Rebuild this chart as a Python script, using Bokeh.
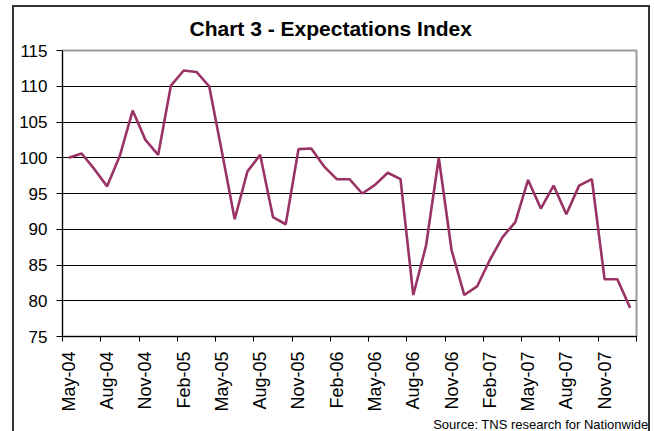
import math
from bokeh.plotting import figure
from bokeh.models import FixedTicker, Title, Range1d, InlineStyleSheet
from bokeh.embed import file_html
from bokeh.resources import INLINE

months = ["May-04", "Jun-04", "Jul-04", "Aug-04", "Sep-04", "Oct-04", "Nov-04", "Dec-04",
          "Jan-05", "Feb-05", "Mar-05", "Apr-05", "May-05", "Jun-05", "Jul-05", "Aug-05",
          "Sep-05", "Oct-05", "Nov-05", "Dec-05", "Jan-06", "Feb-06", "Mar-06", "Apr-06",
          "May-06", "Jun-06", "Jul-06", "Aug-06", "Sep-06", "Oct-06", "Nov-06", "Dec-06",
          "Jan-07", "Feb-07", "Mar-07", "Apr-07", "May-07", "Jun-07", "Jul-07", "Aug-07",
          "Sep-07", "Oct-07", "Nov-07", "Dec-07", "Jan-08"]
values = [100.0, 100.6, 98.4, 96.0, 100.3, 106.6, 102.5, 100.4, 110.1, 112.2,
          112.0, 110.0, 100.8, 91.4, 98.1, 100.4, 91.7, 90.7, 101.2, 101.3,
          98.8, 97.0, 97.0, 95.0, 96.2, 97.9, 97.0, 80.8, 87.7, 100.0,
          87.1, 80.8, 82.0, 85.7, 88.9, 91.0, 96.9, 92.9, 96.1, 92.1,
          96.1, 97.0, 83.0, 83.0, 79.0]
y_ticks = [75, 80, 85, 90, 95, 100, 105, 110, 115]
title_text = "Chart 3 - Expectations Index"
source_text = "Source: TNS research for Nationwide"

x = list(range(len(months)))
label_pos = x[::3]
tick_pos = [i - 0.5 for i in x[::3]] + [len(months) - 0.5]

FONT = "Liberation Sans"

p = figure(width=654, height=431, output_backend="svg", toolbar_location=None,
           x_range=Range1d(-0.5, len(months) - 0.5), y_range=Range1d(75, 115),
           min_border_left=62, min_border_right=18, min_border_top=50, min_border_bottom=94)
p.background_fill_color = "white"
p.border_fill_color = "white"
p.outline_line_color = "#9a9a9a"
p.outline_line_width = 2

p.line(x, values, line_color="#993366", line_width=2.6)

# title
p.title.text = title_text
p.title.align = "left"
p.title.offset = 127
p.title.standoff = 22
p.title.text_font = FONT
p.title.text_font_style = "bold"
p.title.text_font_size = "21px"
p.title.text_color = "black"

# x axis
p.xaxis.ticker = FixedTicker(ticks=label_pos, minor_ticks=tick_pos)
p.xaxis.major_label_overrides = {i: months[i] for i in label_pos}
p.xaxis.major_label_orientation = math.pi / 2
p.xaxis.major_tick_line_color = None
p.xaxis.major_tick_out = 5
p.xaxis.major_tick_in = 0
p.xaxis.minor_tick_line_color = "black"
p.xaxis.minor_tick_out = 5
p.xaxis.minor_tick_in = 0
p.xaxis.axis_line_color = "black"
p.xaxis.major_label_standoff = 10
p.xaxis.major_label_text_font = FONT
p.xaxis.major_label_text_font_size = "18px"
p.xaxis.major_label_text_color = "black"

# y axis
p.yaxis.ticker = FixedTicker(ticks=y_ticks)
p.yaxis.major_tick_out = 6
p.yaxis.major_tick_in = 0
p.yaxis.major_tick_line_color = "black"
p.yaxis.minor_tick_line_color = None
p.yaxis.axis_line_color = "black"
p.yaxis.major_label_standoff = 9
p.yaxis.major_label_text_font = FONT
p.yaxis.major_label_text_font_size = "17px"
p.yaxis.major_label_text_color = "black"

p.xgrid.visible = False
p.ygrid.ticker = FixedTicker(ticks=y_ticks[1:-1])
p.ygrid.grid_line_color = "black"
p.ygrid.grid_line_width = 1

# source note
src = Title(text=source_text, align="right", offset=-12, standoff=0,
            text_font=FONT, text_font_style="normal", text_font_size="13px",
            text_color="black")
p.add_layout(src, "below")

# outer chart border
p.stylesheets = [InlineStyleSheet(css=(
    ":host::after { content: ''; position: absolute; left: 12px; top: 5px; "
    "width: 638px; height: 426px; box-sizing: border-box; "
    "border: 2px solid #333333; border-bottom: none; pointer-events: none; }"))]

open("out.html", "w").write(file_html(p, INLINE))
